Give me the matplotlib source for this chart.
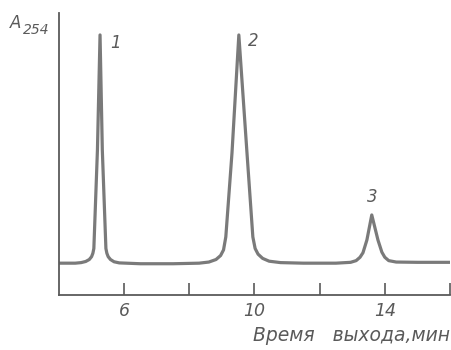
import matplotlib
matplotlib.use("Agg")
import matplotlib.pyplot as plt

# chromatogram trace: retention time (min) vs A254 (rel.)
time_min = [4.0, 4.5, 4.68, 4.82, 4.93, 5.0, 5.04, 5.07, 5.18, 5.26, 5.33, 5.44, 5.47, 5.51, 5.58,
            5.69, 5.85, 6.5, 7.5, 8.3, 8.6, 8.82, 8.96, 9.05, 9.12, 9.31, 9.52, 9.77, 9.95, 10.02,
            10.11, 10.25, 10.45, 10.8, 11.5, 12.5, 12.95, 13.12, 13.24, 13.33, 13.45, 13.60, 13.79,
            13.91, 14.0, 14.12, 14.35, 15.0, 16.0]
absorb = [0.113, 0.113, 0.115, 0.119, 0.126, 0.136, 0.148, 0.165, 0.514, 0.922, 0.514, 0.165, 0.148,
          0.136, 0.126, 0.118, 0.114, 0.111, 0.111, 0.113, 0.117, 0.126, 0.140, 0.160, 0.206, 0.504,
          0.922, 0.504, 0.206, 0.165, 0.145, 0.130, 0.120, 0.115, 0.113, 0.113, 0.116, 0.122, 0.134,
          0.150, 0.195, 0.284, 0.195, 0.152, 0.134, 0.122, 0.117, 0.116, 0.116]

# peak numbers and where they sit
peak_names = ["1", "2", "3"]
peak_x = [5.72, 9.95, 13.63]
peak_y = [0.895, 0.902, 0.348]

xticks = [6, 8, 10, 12, 14, 16]
xtick_labels = ["6", "", "10", "", "14", ""]

ink = "#5a5a5a"
trace = "#7a7a7a"

fig = plt.figure(figsize=(4.52, 3.5), dpi=100)
ax = fig.add_axes([0.1305, 0.157, 0.865, 0.806])

ax.plot(time_min, absorb, color=trace, lw=2.3, solid_joinstyle="round", solid_capstyle="round")

for name, x, y in zip(peak_names, peak_x, peak_y):
    ax.text(x, y, name, color=ink, fontsize=12, style="italic", ha="center", va="center")

ax.set_xlim(4, 16)
ax.set_ylim(0, 1)
for side in ["top", "right"]:
    ax.spines[side].set_visible(False)
for side in ["left", "bottom"]:
    ax.spines[side].set_color(ink)
    ax.spines[side].set_linewidth(1.3)

ax.set_xticks(xticks)
ax.set_xticklabels(xtick_labels)
ax.set_yticks([])
ax.tick_params(axis="x", direction="in", length=9, width=1.2, color=ink,
               labelcolor=ink, labelsize=12.5, pad=5)
for lbl in ax.get_xticklabels():
    lbl.set_style("italic")

ax.text(1.0, -0.142, "Время   выхода,мин", transform=ax.transAxes, ha="right", va="center",
        color=ink, fontsize=13.5, style="italic")

fig.text(0.022, 0.934, "A", color=ink, fontsize=12, style="italic", ha="left", va="center")
fig.text(0.051, 0.914, "254", color=ink, fontsize=10, style="italic", ha="left", va="center")

fig.savefig("out.png", dpi=100)
